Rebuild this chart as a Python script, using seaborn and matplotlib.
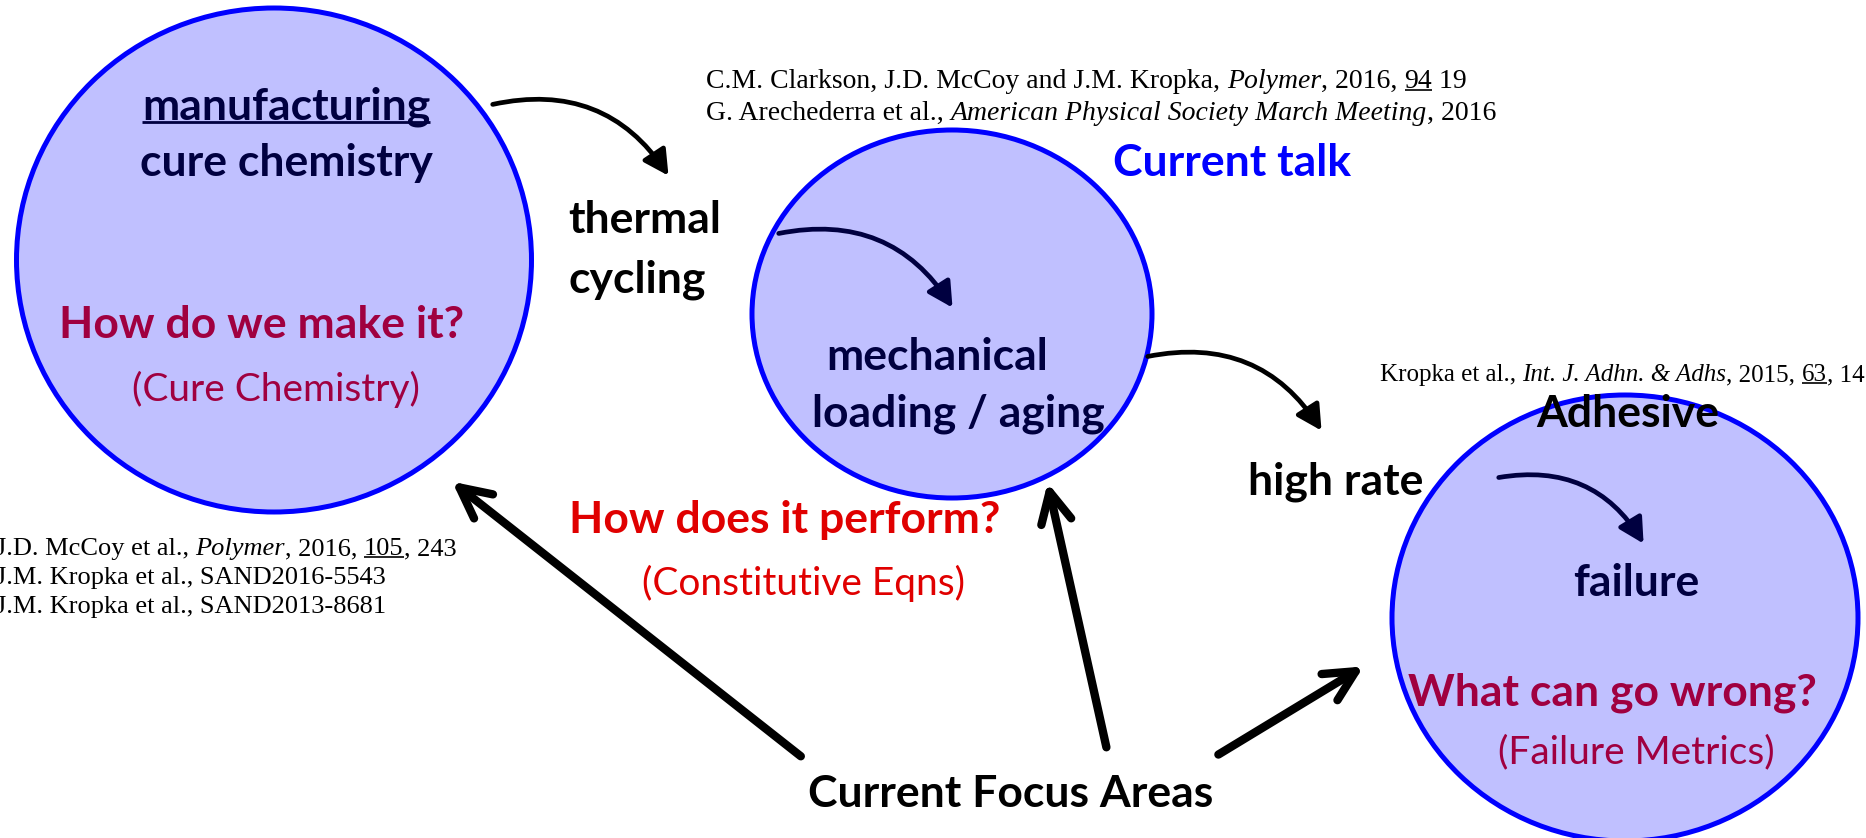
import matplotlib.pyplot as plt
import seaborn as sns
from matplotlib.patches import Ellipse, FancyArrowPatch

# ---- content ----
left_lines = ['manufacturing', 'cure chemistry']
left_question = ['How do we make it?', '(Cure Chemistry)']
mid_lines = ['mechanical', 'loading / aging']
mid_question = ['How does it perform?', '(Constitutive Eqns)']
right_lines = ['Adhesive', 'failure']
right_question = ['What can go wrong?', '(Failure Metrics)']
transition_labels = ['thermal', 'cycling', 'high rate']
talk_label = 'Current talk'
focus_label = 'Current Focus Areas'

# reference lines: (text, italic, underline)
ref_mid = [
    [('C.M. Clarkson, J.D. McCoy and J.M. Kropka, ', 0, 0), ('Polymer', 1, 0),
     (', 2016, ', 0, 0), ('94', 0, 1), (' 19', 0, 0)],
    [('G. Arechederra et al., ', 0, 0), ('American Physical Society March Meeting', 1, 0),
     (', 2016', 0, 0)],
]
ref_right = [
    [('Kropka et al., ', 0, 0), ('Int. J. Adhn. & Adhs', 1, 0), (', 2015, ', 0, 0),
     ('63', 0, 1), (', 14', 0, 0)],
]
ref_left = [
    [('J.D. McCoy et al., ', 0, 0), ('Polymer', 1, 0), (', 2016, ', 0, 0),
     ('105', 0, 1), (', 243', 0, 0)],
    [('J.M. Kropka et al., SAND2016-5543', 0, 0)],
    [('J.M. Kropka et al., SAND2013-8681', 0, 0)],
]

NAVY = '#000040'
CRIMSON = '#A00040'
RED = '#E00000'
FILL = '#C0C0FF'
EDGE = '#0000FF'

sns.set_theme(style='white')
plt.rcParams['font.family'] = ['Lato', 'DejaVu Sans']

fig = plt.figure(figsize=(18.66, 8.38), dpi=100)
ax = fig.add_axes([0, 0, 1, 1])
ax.set_xlim(0, 1866)
ax.set_ylim(838, 0)
ax.axis('off')

# ---- circles ----
for (cx, cy, w, h) in [(274, 260, 515, 504), (952, 314, 400, 368), (1625, 618, 466, 446)]:
    ax.add_patch(Ellipse((cx, cy), w, h, facecolor=FILL, edgecolor=EDGE, lw=3.6, zorder=1))

underlined = []

big = 32
small = 28
t = ax.text(286, 107, left_lines[0], ha='center', va='center', fontsize=big,
            fontweight='bold', color=NAVY, zorder=3)
underlined.append((t, NAVY, 2.0))
ax.text(286, 163, left_lines[1], ha='center', va='center', fontsize=big,
        fontweight='bold', color=NAVY, zorder=3)
ax.text(262, 325, left_question[0], ha='center', va='center', fontsize=big,
        fontweight='bold', color=CRIMSON, zorder=3)
ax.text(276, 389, left_question[1], ha='center', va='center', fontsize=small,
        color=CRIMSON, zorder=3)

ax.text(568, 220, transition_labels[0], ha='left', va='center', fontsize=big,
        fontweight='bold', color='black')
ax.text(568, 280, transition_labels[1], ha='left', va='center', fontsize=big,
        fontweight='bold', color='black')
ax.text(1336, 482, transition_labels[2], ha='center', va='center', fontsize=big,
        fontweight='bold', color='black')

ax.text(1113, 163, talk_label, ha='left', va='center', fontsize=big,
        fontweight='bold', color=EDGE)

ax.text(937, 357, mid_lines[0], ha='center', va='center', fontsize=big,
        fontweight='bold', color=NAVY, zorder=3)
ax.text(958, 414, mid_lines[1], ha='center', va='center', fontsize=big,
        fontweight='bold', color=NAVY, zorder=3)
ax.text(785, 520, mid_question[0], ha='center', va='center', fontsize=big,
        fontweight='bold', color=RED)
ax.text(803, 583, mid_question[1], ha='center', va='center', fontsize=small, color=RED)

ax.text(1628, 414, right_lines[0], ha='center', va='center', fontsize=big,
        fontweight='bold', color='black', zorder=3)
ax.text(1636, 583, right_lines[1], ha='center', va='center', fontsize=big,
        fontweight='bold', color=NAVY, zorder=3)
ax.text(1612, 693, right_question[0], ha='center', va='center', fontsize=big,
        fontweight='bold', color=CRIMSON, zorder=3)
ax.text(1636, 752, right_question[1], ha='center', va='center', fontsize=small,
        color=CRIMSON, zorder=3)

ax.text(1011, 794, focus_label, ha='center', va='center', fontsize=big,
        fontweight='bold', color='black')


# ---- references in serif, built piece by piece ----
def ref_line(x, y, parts, size=19):
    prev = None
    for text, ital, ul in parts:
        kw = dict(fontsize=size, family='Liberation Serif', color='black',
                  style='italic' if ital else 'normal', zorder=3)
        if prev is None:
            prev = ax.text(x, y, text, ha='left', va='baseline', **kw)
        else:
            prev = ax.annotate(text, xy=(1, 0), xycoords=prev, ha='left', va='bottom', **kw)
        if ul:
            underlined.append((prev, 'black', 1.2))


for i, parts in enumerate(ref_mid):
    ref_line(706, 88 + 32 * i, parts, size=20)
for i, parts in enumerate(ref_right):
    ref_line(1380, 381, parts, size=18)
for i, parts in enumerate(ref_left):
    ref_line(-4, 555 + 29 * i, parts, size=19)


# ---- arrows ----
def curved(p0, p1, color, rad=-0.35):
    ax.add_patch(FancyArrowPatch(p0, p1, connectionstyle=f'arc3,rad={rad}',
                                 arrowstyle='-|>,head_length=0.75,head_width=0.4',
                                 mutation_scale=20, lw=3.4, color=color, zorder=4))


curved((490, 105), (670, 178), 'black')
curved((776, 234), (954, 310), NAVY)
curved((1145, 357), (1323, 433), 'black')
curved((1496, 478), (1645, 546), NAVY)


def straight(p0, p1):
    ax.add_patch(FancyArrowPatch(p0, p1, arrowstyle='->,head_length=1.1,head_width=0.55',
                                 mutation_scale=20, lw=6, color='black',
                                 capstyle='round', joinstyle='round', zorder=4))


straight((803, 758), (450, 480))
straight((1107, 750), (1047, 480))
straight((1216, 756), (1366, 665))

# underline the marked pieces using their drawn extents
fig.canvas.draw()
renderer = fig.canvas.get_renderer()
inv = ax.transData.inverted()
for txt, col, lw in underlined:
    bb = txt.get_window_extent(renderer)
    yb = bb.y0 + 0.14 * bb.height
    (xa, ya), (xb, yb2) = inv.transform([(bb.x0, yb), (bb.x1, yb)])
    ax.plot([xa, xb], [ya, yb2], color=col, lw=lw, solid_capstyle='butt', zorder=3)

fig.savefig('out.png', dpi=100)
